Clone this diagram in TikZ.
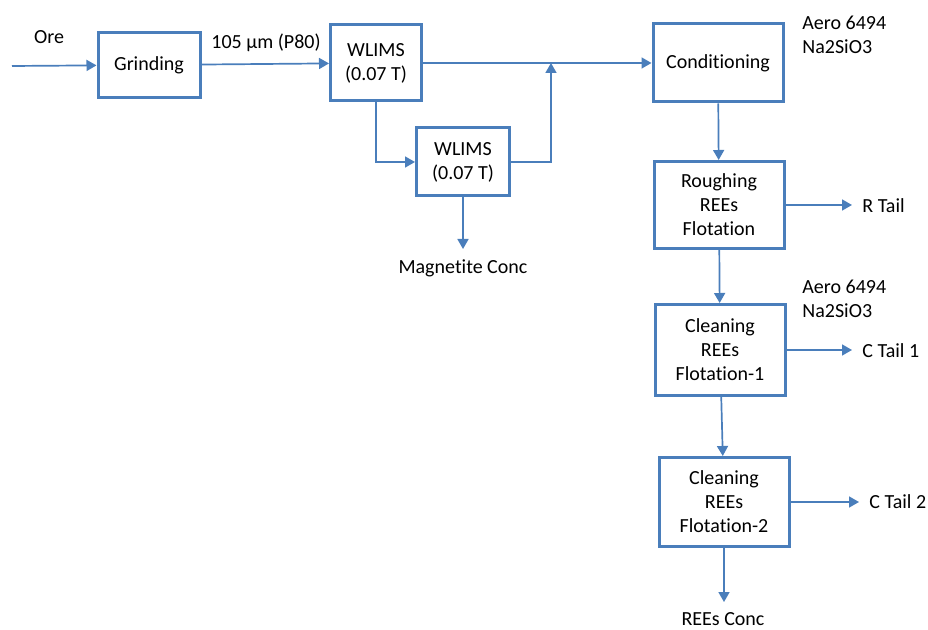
\documentclass[tikz,border=0pt]{standalone}
\usepackage{fontspec}
\setmainfont{Carlito}[Ligatures=NoCommon]
\usetikzlibrary{arrows.meta}
\usetikzlibrary{positioning}
\definecolor{flowblue}{RGB}{74,126,187}

\begin{document}
\begin{tikzpicture}[
        x=0.5pt, y=-0.5pt,
        font=\fontsize{10}{12}\selectfont,
        block/.style={rectangle, draw=flowblue, line width=1.5pt, align=center, inner sep=2pt},
        txt/.style={align=center, inner sep=5pt},
        reagent/.style={align=left, anchor=west, inner sep=0pt},
        arrow/.style={draw=flowblue, line width=0.85pt, -{Triangle[length=5pt, width=5.5pt]}}
        ]
        \useasboundingbox (0,0) rectangle (928,630);

        % Process blocks
        \node (grind)  [block, minimum width=51pt, minimum height=32.5pt] at (149,65)  {Grinding};
        \node (wlims1) [block, minimum width=45.5pt, minimum height=38pt] at (376,63)  {WLIMS\\(0.07 T)};
        \node (wlims2) [block, minimum width=46.5pt, minimum height=34pt] at (463,162) {WLIMS\\(0.07 T)};
        \node (cond)   [block, minimum width=65pt, minimum height=39pt]   at (718,63)  {Conditioning};
        \node (rough)  [block, minimum width=65pt, minimum height=43.5pt] at (719,205) {Roughing\\REEs\\Flotation};
        \node (clean1) [block, minimum width=65pt, minimum height=45.5pt] at (720,350) {Cleaning\\REEs\\Flotation-1};
        \node (clean2) [block, minimum width=65pt, minimum height=44.5pt] at (724,502) {Cleaning\\REEs\\Flotation-2};

        % Streams and reagents
        \coordinate (feed) at (12,66);
        \coordinate (join) at (551,63);
        \node (ore)     [txt] at (49,37)   {Ore};
        \node (size)    [txt] at (266,43)  {105 µm (P80)};
        \node (mag)     [txt] at (463,268) {Magnetite Conc};
        \node (rtail)   [txt, anchor=west] at (852,206) {R Tail};
        \node (ctail1)  [txt, anchor=west] at (852,351) {C Tail 1};
        \node (ctail2)  [txt, anchor=west] at (859,502) {C Tail 2};
        \node (conc)    [txt] at (723,619) {REEs Conc};
        \node (reag1)   [reagent] at (802,35)  {Aero 6494\\Na2SiO3};
        \node (reag2)   [reagent] at (802,299) {Aero 6494\\Na2SiO3};

        % Arrows
        \draw[arrow] (feed)   -- (grind);
        \draw[arrow] (grind)  -- (wlims1);
        \draw[arrow] (wlims1) -- (cond);
        \draw[arrow] (wlims1.south) |- (wlims2.west);
        \draw[arrow] (wlims2.east) -| (join);
        \draw[arrow] (wlims2) -- (mag);
        \draw[arrow] (cond)   -- (rough);
        \draw[arrow] (rough)  -- (clean1);
        \draw[arrow] (clean1) -- (clean2);
        \draw[arrow] (clean2.south) -- (clean2.south |- conc.north);
        \draw[arrow] (rough)  -- (rough.east -| rtail.west);
        \draw[arrow] (clean1) -- (clean1.east -| ctail1.west);
        \draw[arrow] (clean2) -- (clean2.east -| ctail2.west);

    \end{tikzpicture}
\end{document}
